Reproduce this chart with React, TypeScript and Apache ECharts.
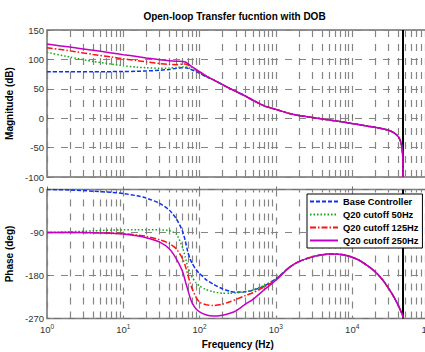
import React, { useEffect, useRef } from 'react';
import * as echarts from 'echarts';

const titleText = 'Open-loop Transfer fucntion with DOB';
const seriesNames = ['Base Controller', 'Q20 cutoff 50Hz', 'Q20 cutoff 125Hz', 'Q20 cutoff 250Hz'];

const freqs = [1, 2, 4, 7, 10, 15, 20, 30, 40, 50, 60, 65, 70, 75, 80, 90, 100, 120, 150, 200, 250, 300, 400, 500, 700, 1000, 1500, 2000, 3000, 5000, 8000, 12000, 16000, 20000, 25000, 30000, 35000, 40000, 43000, 45000, 46000, 46400];

// magnitude (dB)
const magBase = [79, 79, 79, 79.2, 79.4, 79.8, 80.3, 81.5, 83, 84.8, 86, 86, 85, 83.5, 82, 79.5, 76.5, 71, 65.5, 57, 50.5, 45.5, 37.5, 30.5, 21, 15, 8, 4.5, 1.3, -3, -7, -10.8, -13.5, -15.5, -18, -20.5, -24.5, -31, -39, -50, -66, -100];
const mag50 = [112, 104, 96.5, 92, 89, 86.8, 85.8, 85, 85.3, 86.2, 87.3, 87.5, 86.5, 85, 83.5, 80.5, 77.5, 71.5, 65.5, 57, 50.5, 45.5, 37.5, 30.5, 21, 15, 8, 4.5, 1.3, -3, -7, -10.8, -13.5, -15.5, -18, -20.5, -24.5, -31, -39, -50, -66, -100];
const mag125 = [120, 114.5, 108.5, 104, 101, 98, 96, 93, 91.5, 91, 92, 92, 90.5, 88.5, 86.5, 82, 78.5, 72, 65.5, 57, 50.5, 45.5, 37.5, 30.5, 21, 15, 8, 4.5, 1.3, -3, -7, -10.8, -13.5, -15.5, -18, -20.5, -24.5, -31, -39, -50, -66, -100];
const mag250 = [126, 121, 115.5, 111, 108, 105, 102.5, 99.5, 97.8, 97, 96.5, 95.5, 93, 90, 87.5, 83, 79, 72.5, 65.5, 57, 50.5, 45.5, 37.5, 30.5, 21, 15, 8, 4.5, 1.3, -3, -7, -10.8, -13.5, -15.5, -18, -20.5, -24.5, -31, -39, -50, -66, -100];

// phase (deg)
const phBase = [0, -1, -3.5, -6, -8.5, -13, -18, -29, -43, -62, -88, -108, -130, -145, -155, -168, -176, -188, -198, -208, -213, -215, -214, -211, -202, -187, -163, -151, -141, -135, -137, -147, -160, -172, -189, -207, -224, -242, -253, -260, -265, -268];
const ph50 = [-90, -88.5, -86.5, -85, -84.5, -84, -84, -84.5, -86, -94, -122, -142, -162, -175, -184, -195, -202, -209, -214, -217, -217, -216.5, -214, -210, -201, -187, -163, -151, -141, -135, -137, -147, -160, -172, -189, -207, -224, -242, -253, -260, -265, -268];
const ph125 = [-90, -90, -90.5, -91, -92.5, -95, -98, -105, -113, -125, -145, -160, -178, -195, -208, -226, -236, -241, -243, -240, -235, -230, -222, -216, -204, -189, -163, -151, -141, -135, -137, -147, -160, -172, -189, -207, -224, -242, -253, -260, -265, -268];
const ph250 = [-90, -90, -90.5, -91.5, -93, -97, -101, -110, -124, -146, -172, -192, -210, -226, -238, -250, -256, -262, -265, -263, -259, -254, -240, -230, -210, -190, -163, -151, -141, -135, -137, -147, -160, -172, -189, -207, -224, -242, -253, -260, -265, -268];

const magTicks = { min: -100, max: 150, interval: 50 };
const phaseTicks = { min: -270, max: 0, interval: 90 };
const freqRange = { min: 1, max: 100000 };
const decades = [1, 10, 100, 1000, 10000];
const minorMultipliers = [2, 3, 4, 5, 6, 7, 8, 9];
const nyquistFreq = 46400;

const colors = ['#1030f0', '#10aa10', '#ff1010', '#c400c4'];
const lineTypes: any[] = [[4, 2], [1.5, 2], [6, 2, 1.5, 2], 'solid'];

const FONT = 'Liberation Sans, Arial, Helvetica, sans-serif';

export default function App() {
  const ref = useRef<HTMLDivElement>(null);
  useEffect(() => {
    if (!ref.current) return;
    const chart = echarts.init(ref.current, null, { renderer: 'svg' });
    const zip = (ys: number[]) => freqs.map((f, i) => [f, ys[i]]);
    const minorGrid: number[] = [];
    decades.forEach((d) => minorMultipliers.forEach((m) => minorGrid.push(d * m)));
    const gridStyle = { color: '#858585', type: [7, 7], width: 1.2 };
    const markLine = {
      silent: true,
      z: 1,
      symbol: ['none', 'none'],
      label: { show: false },
      lineStyle: gridStyle,
      data: [
        ...minorGrid.map((v) => ({ xAxis: v })),
        { xAxis: nyquistFreq, lineStyle: { color: '#000', type: 'solid', width: 2 } },
      ],
    };
    const mags = [magBase, mag50, mag125, mag250];
    const phs = [phBase, ph50, ph125, ph250];
    const series: any[] = [];
    [0, 1].forEach((g) => {
      series.push({
        type: 'line',
        name: 'gridlines' + g,
        xAxisIndex: g,
        yAxisIndex: g,
        data: [],
        z: 1,
        markLine,
      });
    });
    mags.forEach((m, i) => {
      series.push({
        type: 'line',
        name: seriesNames[i],
        xAxisIndex: 0,
        yAxisIndex: 0,
        data: zip(m),
        symbol: 'none',
        smooth: 0.2,
        z: 3,
        lineStyle: { color: colors[i], width: 1.5, type: lineTypes[i] },
        itemStyle: { color: colors[i] },
      });
    });
    phs.forEach((p, i) => {
      series.push({
        type: 'line',
        name: seriesNames[i],
        xAxisIndex: 1,
        yAxisIndex: 1,
        data: zip(p),
        symbol: 'none',
        smooth: 0.2,
        z: 3,
        lineStyle: { color: colors[i], width: 1.5, type: lineTypes[i] },
        itemStyle: { color: colors[i] },
      });
    });

    const xAxisBase = {
      type: 'log',
      logBase: 10,
      min: freqRange.min,
      max: freqRange.max,
      splitNumber: 5,
      axisLine: { show: false },
      axisTick: { show: true, inside: true, length: 3, lineStyle: { color: '#707070' } },
      splitLine: { show: true, lineStyle: gridStyle },
    };
    const yAxisBase = {
      type: 'value',
      axisLine: { show: false },
      axisTick: { show: true, inside: true, length: 3, lineStyle: { color: '#707070' } },
      splitLine: { show: true, lineStyle: gridStyle },
      axisLabel: { fontSize: 9.5, color: '#333', fontFamily: FONT, margin: 3 },
      nameLocation: 'middle',
      nameTextStyle: { fontSize: 10, fontWeight: 'bold', color: '#000', fontFamily: FONT },
      nameGap: 26,
    };

    chart.setOption({
      animation: false,
      backgroundColor: '#fff',
      graphic: [
        {
          type: 'text',
          x: 234.5,
          y: 16,
          style: {
            text: titleText,
            textAlign: 'center',
            textVerticalAlign: 'middle',
            fontSize: 10,
            fontWeight: 'bold',
            fontFamily: FONT,
            fill: '#000',
          },
        },
      ],
      grid: [
        { left: 47, top: 30, width: 381.5, height: 147, show: true, borderColor: '#707070', borderWidth: 1.5, containLabel: false, outerBoundsMode: 'none' },
        { left: 47, top: 189.5, width: 381.5, height: 129, show: true, borderColor: '#707070', borderWidth: 1.5, containLabel: false, outerBoundsMode: 'none' },
      ],
      xAxis: [
        { ...xAxisBase, gridIndex: 0, axisLabel: { show: false } },
        {
          ...xAxisBase,
          gridIndex: 1,
          name: 'Frequency (Hz)',
          nameLocation: 'middle',
          nameGap: 21,
          nameTextStyle: { fontSize: 10, fontWeight: 'bold', color: '#000', fontFamily: FONT },
          axisLabel: {
            show: true,
            margin: 4,
            formatter: (v: number) => `{b|10}{s|${Math.round(Math.log10(v))}}`,
            rich: {
              b: { fontSize: 9.5, color: '#333', fontFamily: FONT, verticalAlign: 'bottom', lineHeight: 12 },
              s: { fontSize: 6.5, color: '#333', fontFamily: FONT, verticalAlign: 'top', lineHeight: 8 },
            },
          },
        },
      ],
      yAxis: [
        { ...yAxisBase, gridIndex: 0, min: magTicks.min, max: magTicks.max, interval: magTicks.interval, name: 'Magnitude (dB)' },
        { ...yAxisBase, gridIndex: 1, min: phaseTicks.min, max: phaseTicks.max, interval: phaseTicks.interval, name: 'Phase (deg)' },
      ],
      legend: {
        data: seriesNames,
        orient: 'vertical',
        left: 307,
        top: 194,
        z: 10,
        backgroundColor: '#fff',
        borderColor: '#000',
        borderWidth: 1,
        borderRadius: 0,
        padding: [3, 4, 3, 2],
        itemWidth: 28,
        itemHeight: 10,
        itemGap: 4,
        itemStyle: { opacity: 0 },
        textStyle: { fontSize: 9.3, fontWeight: 'bold', color: '#000', fontFamily: FONT },
      },
      series,
    });
    return () => chart.dispose();
  }, []);
  return (
    <div
      ref={ref}
      style={{ position: 'fixed', left: 0, top: 0, width: 425, height: 352, background: '#fff' }}
    />
  );
}
